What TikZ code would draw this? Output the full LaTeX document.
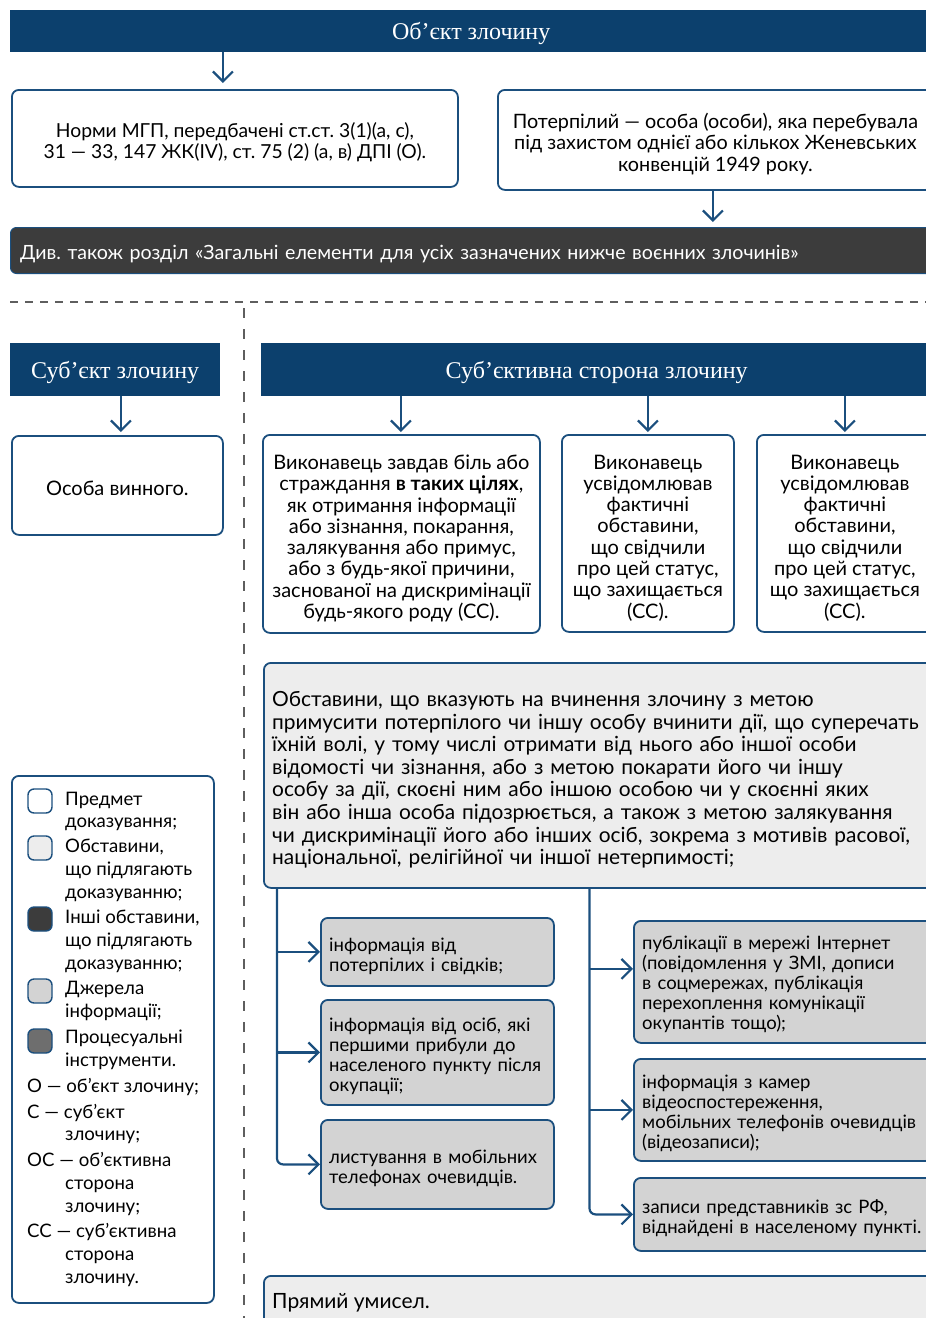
\documentclass[tikz,border=0pt]{standalone}
\usepackage{fontspec}
\setmainfont{Lato}
\newfontfamily\hdfont{Liberation Serif}
\usetikzlibrary{arrows.meta}
\definecolor{navy}{HTML}{0C406D}
\definecolor{bord}{HTML}{1B4F7E}
\definecolor{darkbg}{HTML}{3C3C3C}
\definecolor{lightbg}{HTML}{EDEDED}
\definecolor{midbg}{HTML}{D3D3D3}
\definecolor{procbg}{HTML}{6E6E6E}
\definecolor{dashc}{HTML}{5E5E5E}
\newcommand\fs[2]{\fontsize{#1}{#2}\selectfont}
\frenchspacing
\begin{document}
\begin{tikzpicture}[x=1pt,y=-1pt,
  hdr/.style={fill=navy,inner sep=0pt,anchor=north west},
  hdrtxt/.style={text=white,font=\hdfont\fs{24}{28},inner sep=0pt},
  box/.style={draw=bord,line width=1.8pt,rounded corners=7pt,inner sep=0pt,anchor=north west},
  txt/.style={inner sep=0pt,align=center},
  ltxt/.style={inner sep=0pt,align=left,anchor=west},
  arr/.style={draw=bord,line width=2.2pt,-{Straight Barb[length=10pt,width=20pt]}},
  lg/.style={anchor=base west,inner sep=0pt,font=\fs{18.6}{20}},
  swatch/.style={draw=bord,line width=1.4pt,rounded corners=6pt,minimum size=24pt,inner sep=0pt},
  dashline/.style={draw=dashc,line width=2.4pt,dash pattern=on 8pt off 7pt},
]
\useasboundingbox (0,0) rectangle (926,1318);
\clip (0,0) rectangle (926,1318);

% top section
\node[hdr,minimum width=922pt,minimum height=42pt] (obj) at (10,10) {};
\node[hdrtxt] (objT) at ([yshift=-2pt]obj.center) {Об’єкт злочину};
\node[box,fill=white,minimum width=446pt,minimum height=97pt] (norms) at (11,89) {};
\node[txt,font=\fs{19.3}{21.5}] (normsT) at ([yshift=-4pt]norms.center)
  {Норми МГП, передбачені ст.ст. 3(1)(а, с),\\31 — 33, 147 ЖК(IV), ст. 75 (2) (а, в) ДПІ (О).};
\node[box,fill=white,minimum width=435pt,minimum height=100pt] (victim) at (497,89) {};
\node[txt,font=\fs{19.8}{21.5}] (victimT) at ([yshift=-4pt]victim.center)
  {Потерпілий — особа (особи), яка перебувала\\під захистом однієї або кількох Женевських\\конвенцій 1949 року.};
\node[box,fill=darkbg,line width=1pt,rounded corners=6pt,minimum width=922pt,minimum height=46pt] (bar) at (10,227) {};
\node[ltxt,text width=902pt,text=white,font=\fs{19.6}{21}] (barT) at ([xshift=10pt,yshift=-4pt]bar.west)
  {Див. також розділ «Загальні елементи для усіх зазначених нижче воєнних злочинів»};
\draw[arr] ([xshift=-12pt]norms.north |- obj.south) -- ([xshift=-12pt,yshift=6pt]norms.north);
\draw[arr,shorten >=5pt] ([xshift=-2.5pt]victim.south) -- ([xshift=-2.5pt]victim.south |- bar.north);

% separators
\draw[dashline] (10,302) -- (930,302);
\draw[draw=dashc,line width=2pt,dash pattern=on 10pt off 11pt] (244,308) -- (244,1320);

% subject
\node[hdr,minimum width=210pt,minimum height=53pt] (subj) at (10,343) {};
\node[hdrtxt] (subjT) at ([yshift=-3pt]subj.center) {Суб’єкт злочину};
\node[box,fill=white,minimum width=211pt,minimum height=99pt] (person) at (11,435) {};
\node[txt,font=\fs{20}{22}] (personT) at ([yshift=-3pt]person.center) {Особа винного.};
\draw[arr,shorten >=3pt] ([xshift=3.5pt]person.north |- subj.south) -- ([xshift=3.5pt]person.north);

% subjective side
\node[hdr,minimum width=671pt,minimum height=53pt] (subjside) at (261,343) {};
\node[hdrtxt] (subjsideT) at ([yshift=-3pt]subjside.center) {Суб’єктивна сторона злочину};
\node[box,fill=white,minimum width=277pt,minimum height=198pt] (ssA) at (262,434) {};
\node[txt,font=\fs{20}{21.3}] (ssAT) at ([yshift=-4.5pt]ssA.center)
  {Виконавець завдав біль або\\страждання \textbf{в таких цілях},\\як отримання інформації\\або зізнання, покарання,\\залякування або примус,\\або з будь-якої причини,\\заснованої на дискримінації\\будь-якого роду (СС).};
\node[box,fill=white,minimum width=172pt,minimum height=197pt] (ssB) at (561,434) {};
\node[txt,font=\fs{20}{21.3}] (ssBT) at ([yshift=-4.5pt]ssB.center)
  {Виконавець\\усвідомлював\\фактичні\\обставини,\\що свідчили\\про цей статус,\\що захищається\\(СС).};
\node[box,fill=white,minimum width=176pt,minimum height=197pt] (ssC) at (756,434) {};
\node[txt,font=\fs{20}{21.3}] (ssCT) at ([yshift=-4.5pt]ssC.center)
  {Виконавець\\усвідомлював\\фактичні\\обставини,\\що свідчили\\про цей статус,\\що захищається\\(СС).};
\draw[arr,shorten >=2pt] ([xshift=-0.5pt]ssA.north |- subjside.south) -- ([xshift=-0.5pt]ssA.north);
\draw[arr,shorten >=2pt] (ssB.north |- subjside.south) -- (ssB.north);
\draw[arr,shorten >=2pt] (ssC.north |- subjside.south) -- (ssC.north);

% circumstances
\node[box,fill=lightbg,minimum width=669pt,minimum height=225pt] (circ) at (263,662) {};
\node[ltxt,text width=660pt,font=\fs{20.9}{22.6}] (circT) at ([xshift=9pt,yshift=-4.5pt]circ.west)
  {Обставини, що вказують на вчинення злочину з метою\\
   примусити потерпілого чи іншу особу вчинити дії, що суперечать\\
   їхній волі, у тому числі отримати від нього або іншої особи\\
   відомості чи зізнання, або з метою покарати його чи іншу\\
   особу за дії, скоєні ним або іншою особою чи у скоєнні яких\\
   він або інша особа підозрюється, а також з метою залякування\\
   чи дискримінації його або інших осіб, зокрема з мотивів расової,\\
   національної, релігійної чи іншої нетерпимості;};

% sources
\begin{scope}[every node/.append style={font=\fs{18.5}{20}}]
\node[box,fill=midbg,minimum width=233pt,minimum height=68pt] (L1) at (320,917) {};
\node[ltxt,text width=220pt] (L1T) at ([xshift=9pt,yshift=-4pt]L1.west) {інформація від\\потерпілих і свідків;};
\node[box,fill=midbg,minimum width=233pt,minimum height=105pt] (L2) at (320,999) {};
\node[ltxt,text width=220pt] (L2T) at ([xshift=9pt,yshift=-4pt]L2.west) {інформація від осіб, які\\першими прибули до\\населеного пункту після\\окупації;};
\node[box,fill=midbg,minimum width=233pt,minimum height=89pt] (L3) at (320,1119) {};
\node[ltxt,text width=220pt] (L3T) at ([xshift=9pt,yshift=-4pt]L3.west) {листування в мобільних\\телефонах очевидців.};
\node[box,fill=midbg,minimum width=299pt,minimum height=122pt] (R1) at (633,920) {};
\node[ltxt,text width=286pt] (R1T) at ([xshift=9pt,yshift=-2pt]R1.west) {публікації в мережі Інтернет\\(повідомлення у ЗМІ, дописи\\в соцмережах, публікація\\перехоплення комунікації\\окупантів тощо);};
\node[box,fill=midbg,minimum width=299pt,minimum height=102pt] (R2) at (633,1058) {};
\node[ltxt,text width=286pt] (R2T) at ([xshift=9pt,yshift=-3pt]R2.west) {інформація з камер\\відеоспостереження,\\мобільних телефонів очевидців\\(відеозаписи);};
\node[box,fill=midbg,minimum width=299pt,minimum height=73pt] (R3) at (633,1177) {};
\node[ltxt,text width=286pt] (R3T) at ([xshift=9pt,yshift=-4pt]R3.west) {записи представників зс РФ,\\віднайдені в населеному пункті.};
\end{scope}

\coordinate (tl) at ([xshift=14pt]circ.south west);
\draw[arr,rounded corners=6pt] (tl) |- (L3.west);
\draw[arr] (tl |- L1.west) -- (L1.west);
\draw[arr] (tl |- L2.west) -- (L2.west);
\coordinate (tr) at ([xshift=326.5pt]circ.south west);
\coordinate (r1a) at ([yshift=13pt]R1.west);
\draw[arr,rounded corners=6pt] (tr) |- (R3.west);
\draw[arr] (tr |- r1a) -- (r1a);
\draw[arr] (tr |- R2.west) -- (R2.west);

% intent
\node[box,fill=lightbg,minimum width=669pt,minimum height=56pt] (intent) at (263,1275) {};
\node[anchor=base west,inner sep=0pt,font=\fs{21}{23}] (intentT) at (272,1308) {Прямий умисел.};

% legend
\node[box,fill=white,minimum width=202pt,minimum height=527pt] (legend) at (11,775) {};
\node[swatch,fill=white] (sw1) at (40,801) {};
\node[swatch,fill=lightbg] (sw2) at (40,848) {};
\node[swatch,fill=darkbg] (sw3) at (40,919) {};
\node[swatch,fill=midbg] (sw4) at (40,991) {};
\node[swatch,fill=procbg] (sw5) at (40,1041) {};
\foreach \t/\x/\y [count=\i] in {
  Предмет/65/805, доказування;/65/827,
  {Обставини,}/65/852, що підлягають/65/875, доказуванню;/65/898,
  {Інші обставини,}/65/923, що підлягають/65/946, доказуванню;/65/969,
  Джерела/65/994, інформації;/65/1017,
  Процесуальні/65/1043, інструменти./65/1066,
  О — об’єкт злочину;/27/1092,
  С — суб’єкт/27/1118, злочину;/65/1140,
  ОС — об’єктивна/27/1166, сторона/65/1189, злочину;/65/1212,
  СС — суб’єктивна/27/1237, сторона/65/1260, злочину./65/1283}
  \node[lg] (lg\i) at (\x,\y) {\t};
\end{tikzpicture}
\end{document}
